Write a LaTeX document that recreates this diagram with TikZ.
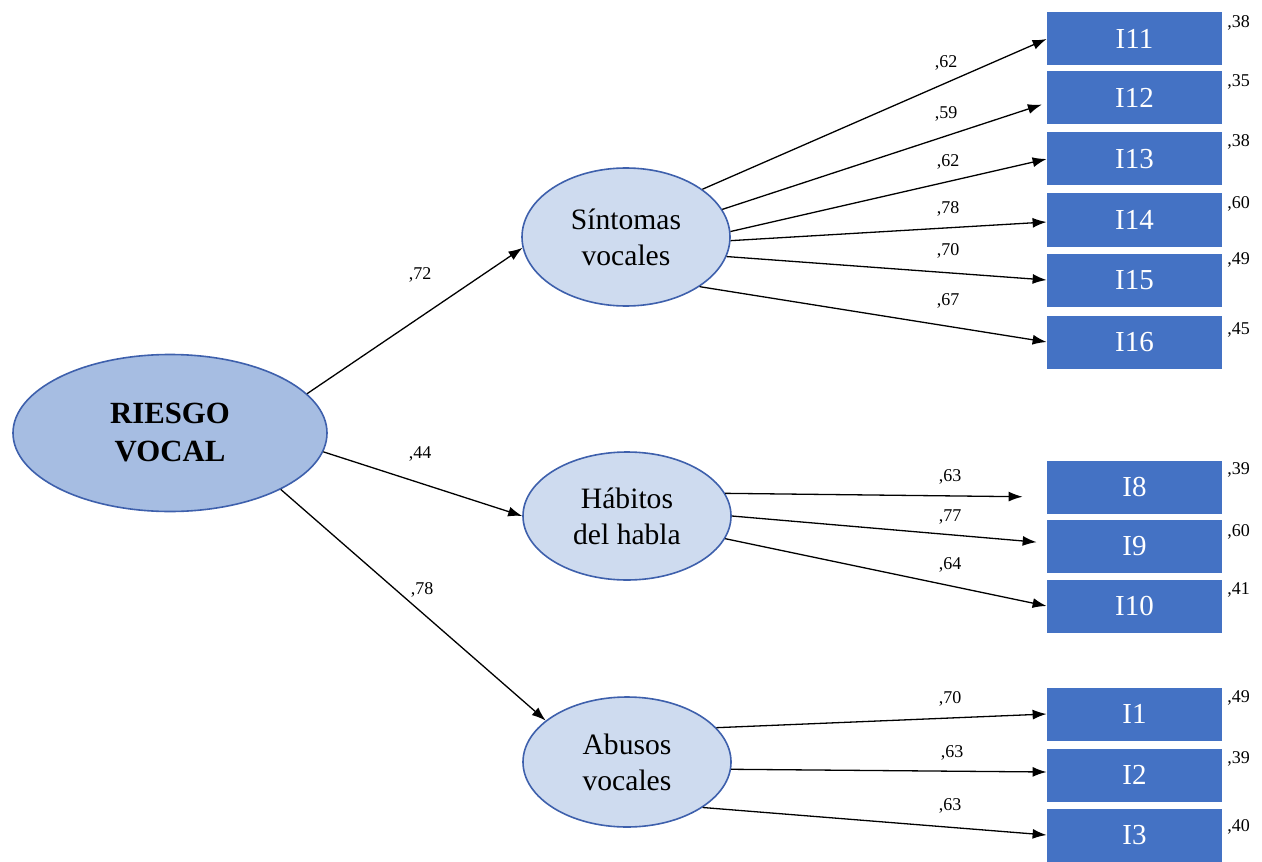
\documentclass[tikz,border=0pt]{standalone}
\usepackage{fontspec}
\setmainfont{Liberation Serif}
\usetikzlibrary{shapes, arrows.meta, positioning, calc}

\definecolor{bigfill}{RGB}{166,189,226}
\definecolor{smallfill}{RGB}{206,219,239}
\definecolor{ringblue}{RGB}{62,96,172}
\definecolor{boxblue}{RGB}{68,114,196}

\tikzset{
	factor/.style = {draw=ringblue, line width=0.8pt, fill=smallfill, ellipse, inner sep=0pt,
		minimum width=104pt, minimum height=65pt, align=center, font=\fontsize{14.8}{18}\selectfont},
	item/.style = {fill=boxblue, text=white, inner sep=0pt, minimum width=87.5pt, minimum height=26.5pt,
		font=\fontsize{14.5}{17}\selectfont},
	load/.style = {->, line width=0.65pt},
	coef/.style = {inner sep=0pt, font=\fontsize{9}{10}\selectfont}
}

\begin{document}
\begin{tikzpicture}[x=0.5pt, y=-0.5pt, >={Latex[length=7pt, width=5pt]}]
	\useasboundingbox (0,0) rectangle (1262,861);
	% latent factors
	\node[factor, fill=bigfill, minimum width=157pt, minimum height=78.5pt,
		font=\bfseries\fontsize{15.4}{19}\selectfont] (riesgo) at (170,433) {RIESGO\\VOCAL};
	\node[factor, minimum height=69pt] (sint) at (626,237) {Síntomas\\vocales};
	\node[factor, minimum height=64pt] (hab) at (627,516) {Hábitos\\del habla};
	\node[factor] (abu) at (627,762) {Abusos\\vocales};
	% items and their R2
	\foreach \N/\Y/\V/\R in {11/39/38/23, 12/98/35/82, 13/159/38/142, 14/220/60/204,
							 15/280/49/260, 16/342/45/330, 8/487/39/470, 9/546/60/532,
							 10/606/41/590, 1/714/49/698, 2/775/39/759, 3/835/40/827} {
		\node[item] (item\N) at (1134.5,\Y) {I\N};
		\node[coef, anchor=west] (rsq\N) at (1227,\R) {,\V};
		}
	% loadings, one by one
	\draw[load] (riesgo.16) -- (sint.186);
	\draw[load] (riesgo.-7) -- (hab.180);
	\draw[load] (riesgo.-27) -- (abu.153);
	\draw[load] (sint.32) -- (item11.west);
	\draw[load, shorten >=2.5pt] (sint.16) -- ([yshift=-2.5pt]item12.west);
	\draw[load] (sint.3) -- (item13.west);
	\draw[load] (sint.-2) -- ([yshift=-1pt]item14.west);
	\draw[load] (sint.-11) -- (item15.west);
	\draw[load] (sint.-34) -- (item16.west);
	\draw[load, shorten >=12pt] (hab.13) -- ([yshift=-5pt]item8.west);
	\draw[load, shorten >=5pt] (hab.0) -- ([yshift=1.5pt]item9.west);
	\draw[load] (hab.-13) -- (item10.west);
	\draw[load] (abu.21) -- (item1.west);
	\draw[load] (abu.-4) -- ([yshift=1.5pt]item2.west);
	\draw[load] (abu.-31) -- (item3.west);
	% loading values
	\foreach \X/\Y/\V in {420/275/72, 420/454/44, 422/590/78,
						  946/63/62, 946/114/59, 948/162/62, 948/209/78, 948/251/70, 948/301/67,
						  950/477/63, 950/517/77, 950/565/64,
						  950/699/70, 952/753/63, 950/806/63} {
		\node[coef] (w\X-\Y) at (\X,\Y) {,\V};
		}
\end{tikzpicture}
\end{document}
